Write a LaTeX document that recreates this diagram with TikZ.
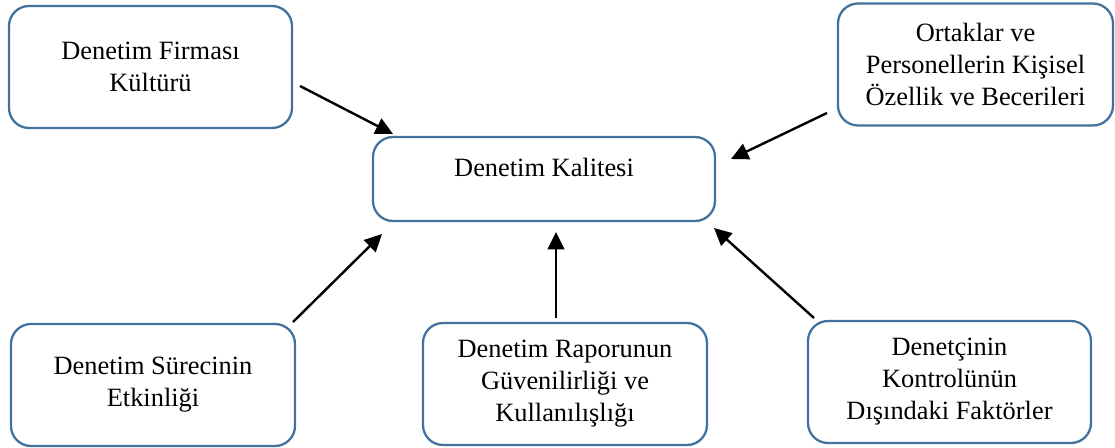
\documentclass[tikz,border=0pt]{standalone}
\usepackage{fontspec}
\setmainfont{Liberation Serif}
\usetikzlibrary{arrows.meta}
\definecolor{boxblue}{RGB}{65,113,156}
\tikzset{
  box/.style={draw=boxblue, line width=1.7pt, rounded corners=15pt, fill=white,
    align=center, inner sep=0pt, font=\fontsize{19.8pt}{24pt}\selectfont},
  conn/.style={line width=1.8pt, -{Triangle[length=13pt,width=12.5pt]}},
  lbl/.style={inner sep=0pt, font=\fontsize{19.8pt}{24pt}\selectfont}
}
\begin{document}
\begin{tikzpicture}[x=0.75pt,y=-0.75pt]
\useasboundingbox (0,0) rectangle (1115,447);
\node[box, minimum width=212.25pt, minimum height=91.5pt] (A) at (150.5,67)
  {Denetim Firması\\Kültürü};
\node[box, minimum width=206.25pt, minimum height=91.5pt] (B) at (975.5,64.5)
  {Ortaklar ve\\Personellerin Kişisel\\Özellik ve Becerileri};
\node[box, minimum width=256.5pt, minimum height=63pt] (C) at (544,179) {};
\node[lbl] (Ct) at (544,167) {Denetim Kalitesi};
\node[box, minimum width=213pt, minimum height=91.5pt] (D) at (153,385)
  {Denetim Sürecinin\\Etkinliği};
\node[box, minimum width=213pt, minimum height=91.5pt] (E) at (565,384)
  {Denetim Raporunun\\Güvenilirliği ve\\Kullanılışlığı};
\node[box, minimum width=212.25pt, minimum height=91.5pt] (F) at (949.5,382)
  {Denetçinin\\Kontrolünün\\Dışındaki Faktörler};
\coordinate (a1) at (300,86);  \coordinate (a2) at (393,134);
\coordinate (b1) at (827,113); \coordinate (b2) at (731,159);
\coordinate (d1) at (293,322); \coordinate (d2) at (382,234);
\coordinate (e1) at (556,318); \coordinate (e2) at (556,232);
\coordinate (f1) at (814,318); \coordinate (f2) at (714,228);
\draw[conn] (a1) -- (a2);
\draw[conn] (b1) -- (b2);
\draw[conn] (d1) -- (d2);
\draw[conn] (e1) -- (e2);
\draw[conn] (f1) -- (f2);
\end{tikzpicture}
\end{document}
